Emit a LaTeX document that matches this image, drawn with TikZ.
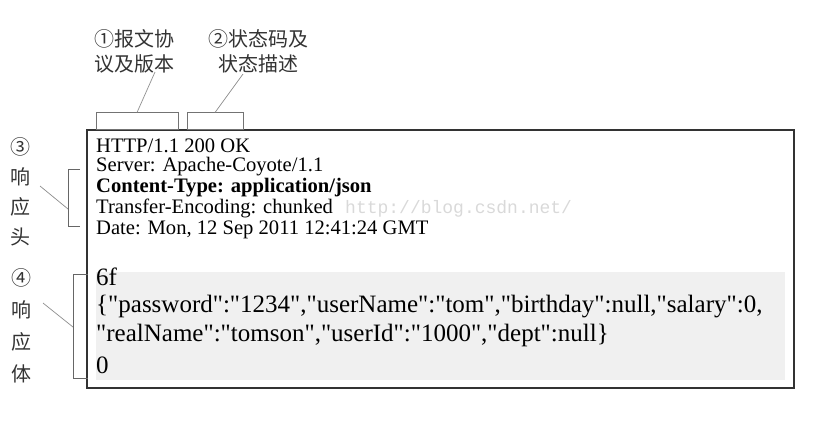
\documentclass[tikz,border=0pt]{standalone}
\usepackage{fontspec}
\setmainfont{Liberation Serif}[Ligatures=TeXOff]
\newfontfamily\cjk{Noto Sans CJK SC}
\newfontfamily\wmfont{Liberation Mono}
\usetikzlibrary{positioning}

\begin{document}
\begin{tikzpicture}[x=1pt, y=-1pt,
  hdr/.style={anchor=base west, inner sep=0pt, font=\fontsize{20.6}{24}\selectfont},
  bdy/.style={anchor=base west, inner sep=0pt, font=\fontsize{25}{28}\selectfont},
  lbl/.style={inner sep=0pt, align=center, text=black!80},
  tag/.style={draw=black!55, line width=0.8pt, inner sep=0pt, outer sep=0pt},
  brk/.style={draw=black!60, line width=0.8pt},
  lead/.style={draw=black!45, line width=0.7pt}]
\useasboundingbox (0,0) rectangle (819,421);

% message frame and body background
\fill[black!6] (96,272) rectangle (785,380);
\draw[line width=1.5pt, draw=black!80] (87,130) rectangle (794,388);

% status line tags
\node[tag, minimum width=82pt, minimum height=17pt] (pbox) at (137,121) {};
\node[tag, minimum width=56pt, minimum height=17pt] (sbox) at (215,121) {};
\node[lbl, font=\cjk\fontsize{20}{25}\selectfont] (plbl) at (134,51) {①报文协\\议及版本};
\node[lbl, font=\cjk\fontsize{20}{25}\selectfont] (slbl) at (258,51) {②状态码及\\状态描述};
\coordinate (ptip) at (155,72);
\coordinate (stip) at (243,74);
\draw[lead] (pbox.north) -- (ptip);
\draw[lead] (sbox.north) -- (stip);

% response header
\node[hdr] (l1) at (96,152) {HTTP/1.1 200 OK};
\node[hdr] (l2) at (96,171) {Server: Apache-Coyote/1.1};
\node[hdr] (l3) at (96,192) {\bfseries Content-Type: application/json};
\node[hdr] (l4) at (96,213) {Transfer-Encoding: chunked};
\node[hdr] (l5) at (96,234) {Date: Mon, 12 Sep 2011 12:41:24 GMT};
\node[anchor=base west, inner sep=0pt, text=black!15, font=\wmfont\fontsize{18}{22}\selectfont] (wm) at (345,213) {http://blog.csdn.net/};

% response body
\node[bdy] (b1) at (96,285) {6f};
\node[bdy] (b2) at (96,312) {\{"password":"1234","userName":"tom","birthday":null,"salary":0,};
\node[bdy] (b3) at (96,341) {"realName":"tomson","userId":"1000","dept":null\}};
\node[bdy] (b4) at (96,373) {0};

% side labels
\node[lbl, font=\cjk\fontsize{20}{30}\selectfont] (hlbl) at (20,192) {③\\响\\应\\头};
\node[lbl, font=\cjk\fontsize{20}{32}\selectfont] (blbl) at (21,326) {④\\响\\应\\体};
\coordinate (hbrk) at (68,209);
\coordinate (bbrk) at (73,327);
\draw[brk] (80,169) -- (68,169) -- (68,226) -- (80,226);
\draw[brk] (88,274) -- (73,274) -- (73,378) -- (88,378);
\draw[lead] (40,186) -- (hbrk);
\draw[lead] (43,303) -- (bbrk);
\end{tikzpicture}
\end{document}
